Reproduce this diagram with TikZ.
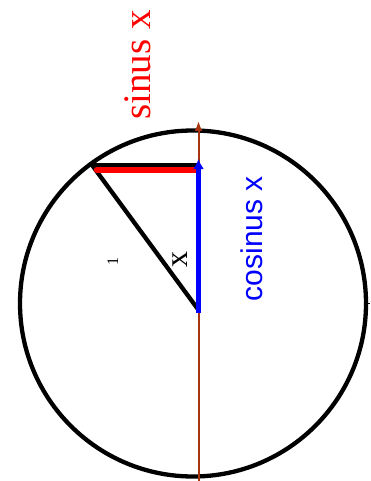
\documentclass[tikz,border=0pt]{standalone}
\usepackage{fontspec}
\setmainfont{Liberation Serif}
\setsansfont{Liberation Sans}
\usetikzlibrary{arrows.meta}
\definecolor{axisbrown}{RGB}{165,52,15}
\begin{document}
\begin{tikzpicture}[x=1pt,y=-1pt,
  thickline/.style={line width=4.3pt},
  lbl/.style={rotate=90,anchor=base,inner sep=0pt}]
\useasboundingbox (0,0) rectangle (370,481);
\coordinate (C) at (193,303.5);
\coordinate (O) at (198.5,310);
\coordinate (Ob) at (198.5,313);
\coordinate (P) at (92,165);
\coordinate (Pr) at (97,170);
\coordinate (A) at (198.5,165);
\coordinate (Ar) at (196,170);
\coordinate (Bl) at (198.5,159);
\coordinate (T) at (198.5,121);
\coordinate (B) at (198.5,483);
\coordinate (K1) at (366,303);
\coordinate (K2) at (370,303);
% circle
\draw[thickline] (C) circle[radius=173pt];
\draw[line width=0.8pt] (K1) -- (K2);
% axis
\draw[axisbrown,line width=2pt,-{Latex[length=10pt,width=8pt]}] (B) -- (T);
% triangle
\draw[thickline] (P) -- (A);
\draw[thickline] (P) -- (O);
\draw[red,line width=6.5pt,line cap=round] (Pr) -- (Ar);
\draw[blue,line width=5pt,-{Latex[length=10pt,width=11pt]}] (Ob) -- (Bl);
% labels
\node[lbl,red,font=\fontsize{39}{41}\selectfont] (sin) at (150,65) {sinus x};
\node[lbl,blue,font=\sffamily\fontsize{30}{32}\selectfont] (cos) at (262,238.5) {cosinus x};
\node[lbl,font=\fontsize{32}{34}\selectfont] (ang) at (187,259.5) {x};
\node[lbl,font=\fontsize{16}{18}\selectfont] (one) at (118,261) {1};
\end{tikzpicture}
\end{document}
